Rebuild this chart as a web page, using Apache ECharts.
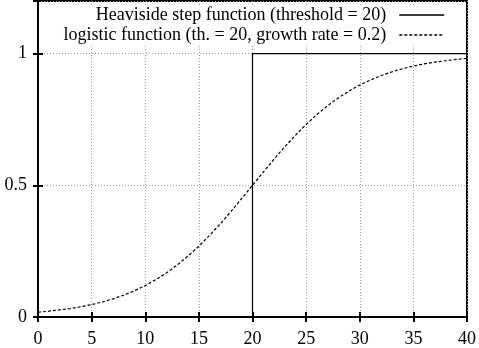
<!DOCTYPE html>
<html><head><meta charset="utf-8">
<script src="https://cdn.jsdelivr.net/npm/echarts@6/dist/echarts.min.js"></script>
<style>html,body{margin:0;padding:0;background:#fff}#c{width:479px;height:348px}</style>
</head><body><div id="c"></div>
<script>
const xTicks = [0,5,10,15,20,25,30,35,40];
const yTicks = [0,0.5,1];
const stepName = 'Heaviside step function (threshold = 20)';
const logisticName = 'logistic function (th. = 20, growth rate = 0.2)';
const stepX = [0,20,20,40];
const stepY = [0,0,1,1];
const logX = [0,1,2,3,4,5,6,7,8,9,10,11,12,13,14,15,16,17,18,19,20,21,22,23,24,25,26,27,28,29,30,31,32,33,34,35,36,37,38,39,40];
const logY = [0.018,0.022,0.027,0.032,0.039,0.047,0.057,0.069,0.083,0.100,0.119,0.142,0.168,0.198,0.232,0.269,0.310,0.354,0.401,0.450,0.500,0.550,0.599,0.646,0.690,0.731,0.769,0.802,0.832,0.858,0.881,0.900,0.917,0.931,0.943,0.953,0.961,0.968,0.973,0.978,0.982];

const font = 'Liberation Serif';
const chart = echarts.init(document.getElementById('c'));
const gridLine = {show:true, lineStyle:{color:'#9a9a9a', type:[1,2], width:1}};
chart.setOption({
  animation:false,
  textStyle:{fontFamily:font},
  grid:{left:38, right:12, top:1, bottom:30, show:true, borderColor:'#000', borderWidth:2},
  legend:{
    right:32, top:5, orient:'vertical', align:'right', itemGap:2,
    itemWidth:45, itemHeight:17, backgroundColor:'#fff', padding:[1,2,1,2],
    itemStyle:{opacity:0}, lineStyle:{width:1.5},
    textStyle:{fontFamily:font, fontSize:18, color:'#000', padding:[0,8,0,0]},
    data:[{name:stepName},{name:logisticName}]
  },
  xAxis:[{
    type:'value', min:0, max:40, interval:5,
    axisLine:{lineStyle:{color:'#000', width:2}},
    axisTick:{inside:true, length:5, lineStyle:{color:'#000', width:2}},
    axisLabel:{color:'#000', fontFamily:font, fontSize:18, margin:13,
      formatter:v=>xTicks.includes(v)?String(v):''},
    splitLine:gridLine
  },{
    type:'value', position:'top', min:0, max:40, interval:5,
    axisLine:{lineStyle:{color:'#000', width:2}},
    axisTick:{inside:true, length:5, lineStyle:{color:'#000', width:2}},
    axisLabel:{show:false}, splitLine:{show:false}
  }],
  yAxis:[{
    type:'value', min:0, max:1.2, interval:0.5,
    axisLine:{show:true, lineStyle:{color:'#000', width:2}},
    axisTick:{show:true, inside:true, length:5, lineStyle:{color:'#000', width:2}},
    axisLabel:{color:'#000', fontFamily:font, fontSize:18, margin:11, showMaxLabel:false,
      formatter:v=>yTicks.includes(v)?String(v):''},
    splitLine:gridLine
  },{
    type:'value', position:'right', min:0, max:1.2, interval:0.5,
    axisLine:{show:true, lineStyle:{color:'#000', width:2}},
    axisTick:{show:true, inside:true, length:5, lineStyle:{color:'#000', width:2}},
    axisLabel:{show:false}, splitLine:{show:false}
  }],
  series:[{
    name:stepName, type:'line', symbol:'none', z:3,
    lineStyle:{color:'#000', width:1.2}, itemStyle:{color:'#000'},
    data:stepX.map((x,i)=>[x,stepY[i]])
  },{
    name:logisticName, type:'line', symbol:'none', z:3,
    lineStyle:{color:'#000', width:1.2, type:[3,2]}, itemStyle:{color:'#000'},
    data:logX.map((x,i)=>[x,logY[i]])
  }]
});
</script></body></html>
